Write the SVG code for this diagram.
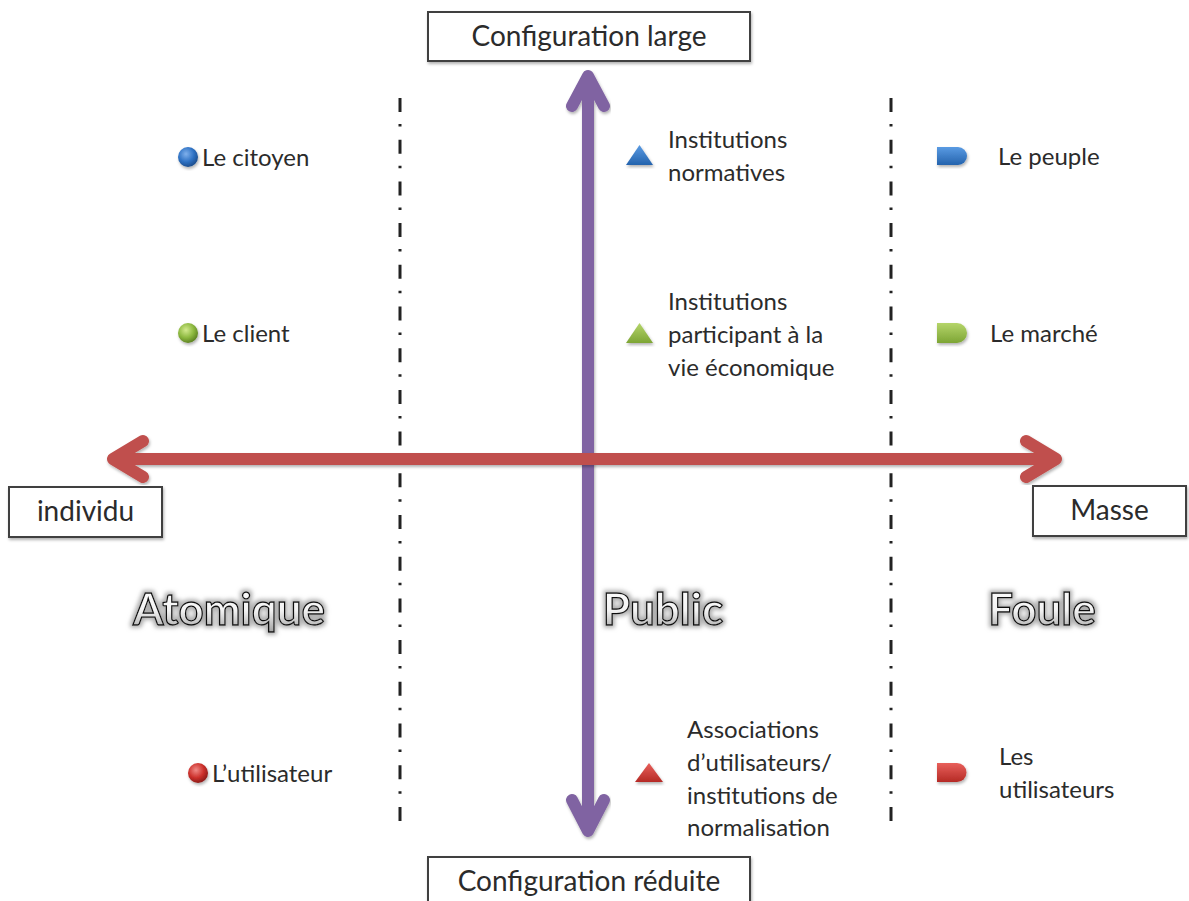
<svg xmlns="http://www.w3.org/2000/svg" width="1189" height="901" viewBox="0 0 1189 901">
<defs>
  <style>
    .lbl{font-family:Lato,"Liberation Sans",sans-serif;font-size:24px;fill:#2b2b2b;}
    .box rect{fill:#fff;stroke:#3f3f3f;stroke-width:2;}
    .box text{font-family:Lato,"Liberation Sans",sans-serif;font-size:28px;fill:#2b2b2b;text-anchor:middle;}
    .big{font-family:Lato,"Liberation Sans",sans-serif;font-weight:700;font-size:44px;fill:url(#bigfill);stroke:#111;stroke-width:1.3;text-anchor:middle;filter:url(#glow);}
    .sep{stroke:#222;stroke-width:3;fill:none;stroke-dasharray:14 12 2.5 13.2;}
    .arrow{fill:none;stroke-width:12;stroke-linecap:round;stroke-linejoin:round;filter:url(#shadow);}
  </style>
  <filter id="shadow" x="-20%" y="-20%" width="140%" height="140%">
    <feDropShadow dx="1" dy="2" stdDeviation="1.5" flood-color="#000" flood-opacity="0.3"/>
  </filter>
  <filter id="glow" x="-20%" y="-40%" width="140%" height="180%">
    <feMorphology in="SourceAlpha" operator="dilate" radius="2" result="d"/>
    <feGaussianBlur in="d" stdDeviation="2" result="b"/>
    <feFlood flood-color="#9a9a9a" flood-opacity="0.8"/>
    <feComposite in2="b" operator="in" result="g"/>
    <feMerge><feMergeNode in="g"/><feMergeNode in="SourceGraphic"/></feMerge>
  </filter>
  <linearGradient id="bigfill" x1="0" y1="0" x2="0" y2="1">
    <stop offset="0" stop-color="#ffffff"/>
    <stop offset="0.55" stop-color="#f2f2f2"/>
    <stop offset="1" stop-color="#9a9a9a"/>
  </linearGradient>
  <radialGradient id="sBlue" cx="0.4" cy="0.35" r="0.65">
    <stop offset="0" stop-color="#7fb0ec"/><stop offset="0.6" stop-color="#2f72c4"/><stop offset="1" stop-color="#1d4f8f"/>
  </radialGradient>
  <radialGradient id="sGreen" cx="0.4" cy="0.35" r="0.65">
    <stop offset="0" stop-color="#d3ea8e"/><stop offset="0.6" stop-color="#8cb83f"/><stop offset="1" stop-color="#5f8424"/>
  </radialGradient>
  <radialGradient id="sRed" cx="0.4" cy="0.35" r="0.65">
    <stop offset="0" stop-color="#f08a86"/><stop offset="0.6" stop-color="#cc302b"/><stop offset="1" stop-color="#8e1d1a"/>
  </radialGradient>
  <linearGradient id="gBlue" x1="0" y1="0" x2="0" y2="1">
    <stop offset="0" stop-color="#5a9be3"/><stop offset="1" stop-color="#2463ad"/>
  </linearGradient>
  <linearGradient id="gGreen" x1="0" y1="0" x2="0" y2="1">
    <stop offset="0" stop-color="#b5d56a"/><stop offset="1" stop-color="#7da535"/>
  </linearGradient>
  <linearGradient id="gRed" x1="0" y1="0" x2="0" y2="1">
    <stop offset="0" stop-color="#e8605b"/><stop offset="1" stop-color="#b52a25"/>
  </linearGradient>
</defs>
<rect width="1189" height="901" fill="#fff"/>

<g id="separators">
  <line class="sep" x1="400" y1="98" x2="400" y2="822"/>
  <line class="sep" x1="891" y1="98" x2="891" y2="822"/>
</g>

<g id="connectors">
  <path class="arrow" stroke="#8064A2" d="M588,78 V829 M572,106 L588,76 L604,106 M572,800 L588,831 L604,800"/>
  <path class="arrow" stroke="#C0504D" d="M115,459 H1054 M143,441 L113,459 L143,477 M1026,441 L1056,459 L1026,477"/>
</g>

<g id="config-large" class="box"><rect x="428" y="12" width="322" height="49" filter="url(#shadow)"/><text x="589" y="46">Configuration large</text></g>
<g id="config-reduite" class="box"><rect x="428" y="857" width="322" height="52" filter="url(#shadow)"/><text x="589" y="891">Configuration réduite</text></g>
<g id="individu" class="box"><rect x="9" y="487" width="153" height="50" filter="url(#shadow)"/><text x="85.5" y="521">individu</text></g>
<g id="masse" class="box"><rect x="1033" y="486" width="153" height="50" filter="url(#shadow)"/><text x="1109.5" y="520">Masse</text></g>

<g id="atomique"><text class="big" x="229" y="625">Atomique</text></g>
<g id="public"><text class="big" x="663" y="625">Public</text></g>
<g id="foule"><text class="big" x="1042" y="625">Foule</text></g>

<g id="le-citoyen"><circle cx="188" cy="157" r="10" fill="url(#sBlue)" filter="url(#shadow)"/><text class="lbl" x="202" y="166">Le citoyen</text></g>
<g id="le-client"><circle cx="188" cy="333" r="10" fill="url(#sGreen)" filter="url(#shadow)"/><text class="lbl" x="202" y="342">Le client</text></g>
<g id="l-utilisateur"><circle cx="198" cy="773" r="10" fill="url(#sRed)" filter="url(#shadow)"/><text class="lbl" x="212" y="782">L’utilisateur</text></g>

<g id="institutions-normatives"><path d="M626,165 L653,165 L639.5,145 Z" fill="url(#gBlue)" filter="url(#shadow)"/><text class="lbl" x="668" y="148">Institutions</text><text class="lbl" x="668" y="181">normatives</text></g>
<g id="institutions-eco"><path d="M626,343 L653,343 L639.5,323 Z" fill="url(#gGreen)" filter="url(#shadow)"/><text class="lbl" x="668" y="310">Institutions</text><text class="lbl" x="668" y="343">participant à la</text><text class="lbl" x="668" y="376">vie économique</text></g>
<g id="associations"><path d="M635,782 L663,782 L649,763 Z" fill="url(#gRed)" filter="url(#shadow)"/><text class="lbl" x="687" y="738">Associations</text><text class="lbl" x="687" y="771">d’utilisateurs/</text><text class="lbl" x="687" y="804">institutions de</text><text class="lbl" x="687" y="836">normalisation</text></g>

<g id="le-peuple"><path d="M937,147 H958 A9,9 0 0 1 958,165 H937 Z" fill="url(#gBlue)" filter="url(#shadow)"/><text class="lbl" x="998" y="165">Le peuple</text></g>
<g id="le-marche"><path d="M937,323 H957 A10,10 0 0 1 957,343 H937 Z" fill="url(#gGreen)" filter="url(#shadow)"/><text class="lbl" x="990" y="342">Le marché</text></g>
<g id="les-utilisateurs"><path d="M937,763 H957 A9.5,9.5 0 0 1 957,782 H937 Z" fill="url(#gRed)" filter="url(#shadow)"/><text class="lbl" x="999" y="765">Les</text><text class="lbl" x="999" y="798">utilisateurs</text></g>
</svg>
